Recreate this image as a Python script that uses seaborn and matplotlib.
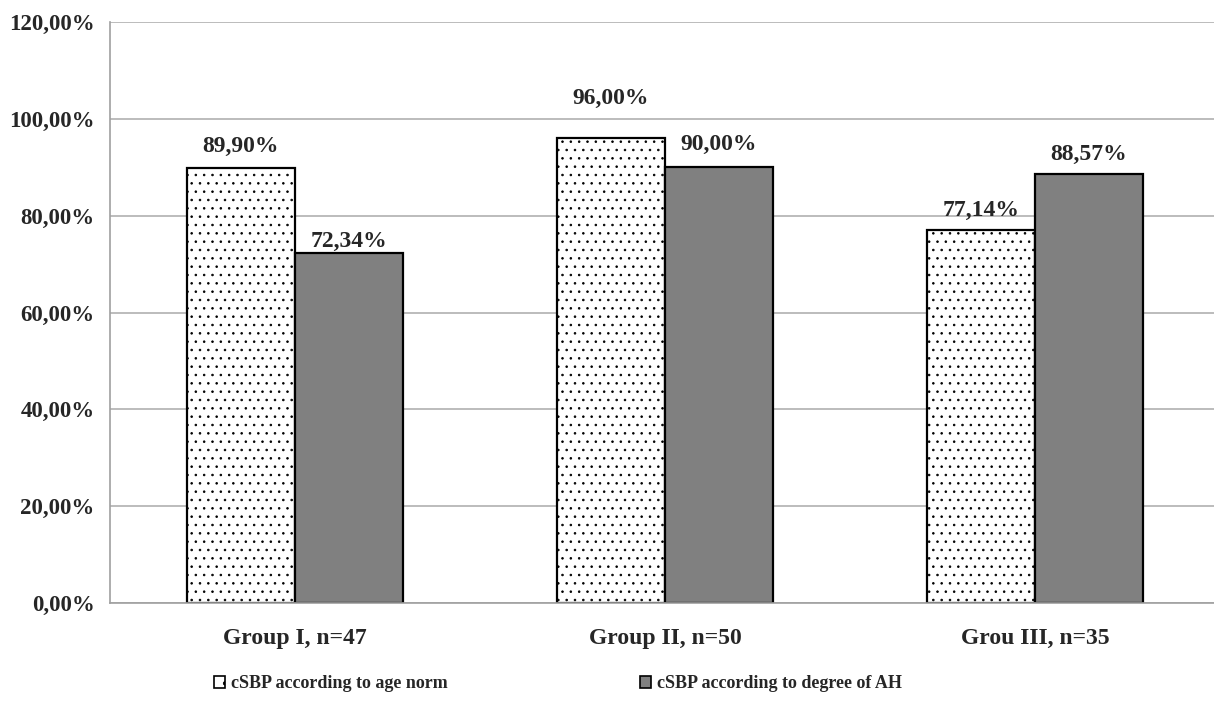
import matplotlib
matplotlib.use("Agg")
import matplotlib.pyplot as plt
import seaborn as sns
import pandas as pd
from matplotlib.ticker import FuncFormatter, FixedLocator
from matplotlib.patches import Patch

groups = ["Group I, n=47", "Group II, n=50", "Grou III, n=35"]
series_names = ["cSBP according to age norm", "cSBP according to degree of AH"]
age_norm = [89.90, 96.00, 77.14]
degree_ah = [72.34, 90.00, 88.57]
# vertical gap (points) between bar top and its value label
label_offsets = [[8, 21, 6], [0.5, 9, 6.5]]

df = pd.DataFrame({
    "group": groups * 2,
    "series": [series_names[0]] * 3 + [series_names[1]] * 3,
    "value": age_norm + degree_ah,
})

sns.set_style("white")
plt.rcParams["font.family"] = ["Liberation Serif", "DejaVu Serif"]
plt.rcParams["font.weight"] = "bold"
plt.rcParams["hatch.linewidth"] = 0.6
plt.rcParams["hatch.color"] = "#222222"

fig = plt.figure(figsize=(12.14, 7.2), dpi=100)
ax = fig.add_axes([110 / 1214, 1 - 603 / 720, 1104 / 1214, 581 / 720])

sns.barplot(data=df, x="group", y="value", hue="series", order=groups,
            hue_order=series_names, palette=["white", "#808080"],
            width=0.585, edgecolor="black", linewidth=1.6, saturation=1,
            ax=ax, legend=False)

for bar in ax.containers[0]:
    bar.set_hatch("..")

for ci, cont in enumerate(ax.containers):
    vals = [age_norm, degree_ah][ci]
    for bi, (bar, v) in enumerate(zip(cont, vals)):
        txt = f"{v:.2f}".replace(".", ",") + "%"
        ax.annotate(txt, (bar.get_x() + bar.get_width() / 2, v),
                    xytext=(0, label_offsets[ci][bi]), textcoords="offset points",
                    ha="center", va="bottom", fontsize=17, fontweight="bold")

ax.set_ylim(0, 120)
ax.set_xlim(-0.5, -0.5 + 1104 / 370)
ax.set_yticks(range(0, 121, 20))
ax.yaxis.set_major_formatter(FuncFormatter(lambda v, p: f"{v:.2f}".replace(".", ",") + "%"))
ax.yaxis.grid(True, color="#b0b0b0", linewidth=1.2)
ax.set_axisbelow(True)

ax.xaxis.set_minor_locator(FixedLocator([-0.5, 0.5, 1.5, 2.5]))
ax.tick_params(axis="x", which="major", length=0, pad=18, labelsize=17)
ax.tick_params(axis="x", which="minor", length=5, color="#a0a0a0", width=1.2, direction="out")
ax.tick_params(axis="y", length=5, color="#a0a0a0", width=1.2, direction="out", labelsize=16.5, pad=6)
for lab in ax.get_xticklabels() + ax.get_yticklabels():
    lab.set_fontweight("bold")

ax.set_xlabel("")
ax.set_ylabel("")
for s in ["top", "right"]:
    ax.spines[s].set_visible(False)
for s in ["left", "bottom"]:
    ax.spines[s].set_color("#a0a0a0")
    ax.spines[s].set_linewidth(1.2)

handles = [Patch(facecolor="white", edgecolor="black", hatch=".", linewidth=1.2),
           Patch(facecolor="#808080", edgecolor="black", linewidth=1.2)]
fig.legend(handles, series_names, loc="center", bbox_to_anchor=(558 / 1214, 1 - 684 / 720),
           ncol=2, frameon=False, handlelength=0.6, handleheight=0.6, handletextpad=0.3,
           columnspacing=10.7, prop={"size": 13, "weight": "bold"})

fig.savefig("out.png", dpi=100)
